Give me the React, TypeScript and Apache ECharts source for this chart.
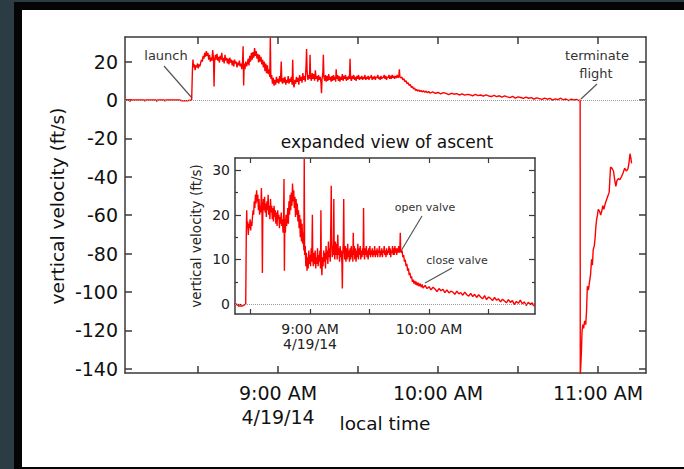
import React, { useEffect, useRef } from "react";
import * as echarts from "echarts";

// time in minutes after 8:00 AM local time (4/19/14), vertical velocity in ft/s
const preLaunch: number[][] = [
  [2.6, 0], [4.2, 0], [4.5, -0.7], [4.8, 0], [9.8, 0], [10.1, -0.6], [10.4, 0], [14.2, 0], [14.5, -0.7], [14.8, 0],
  [17.3, 0], [17.6, -0.6], [17.9, 0], [23, 0], [24, -0.4], [26, -0.4], [27.6, 0],
];

const ascent: number[][] = [
  [27.8, 0], [27.9, 16], [28.1, 21], [28.3, 17], [28.6, 18.5], [28.9, 15.5], [29.2, 18], [29.5, 17], [29.8, 19], [30.1, 16.5],
  [30.4, 18.5], [30.7, 17.5], [31.0, 19.5], [31.3, 21], [31.6, 20], [31.9, 23], [32.2, 21.5], [32.5, 24.5], [32.8, 22.5], [33.1, 25.5],
  [33.4, 23], [33.7, 24.5], [34.0, 21], [34.3, 23.5], [34.6, 20], [34.9, 22], [35.2, 20.5], [35.5, 26], [35.8, 21], [36.0, 7],
  [36.2, 20], [36.5, 23.5], [36.8, 21], [37.1, 24], [37.4, 20.5], [37.7, 22.5], [38.0, 19.5], [38.3, 23], [38.6, 21], [38.9, 24.5],
  [39.2, 20], [39.5, 22], [39.8, 19], [40.1, 23.5], [40.4, 20.5], [40.7, 22], [41.0, 19], [41.3, 21.5], [41.6, 18.5], [41.9, 22],
  [42.2, 19.5], [42.5, 21], [42.8, 18], [43.1, 20.5], [43.4, 17.5], [43.7, 21], [44.0, 19], [44.3, 20], [44.6, 17], [44.9, 19.5],
  [45.2, 18], [45.5, 20.5], [45.8, 17.5], [46.1, 19], [46.4, 16], [46.7, 20], [46.9, 28], [47.1, 7.5], [47.3, 19], [47.6, 16],
  [47.9, 20], [48.2, 17.5], [48.5, 19], [48.8, 21.5], [49.1, 18], [49.4, 23], [49.7, 20], [50.0, 24.5], [50.3, 21], [50.6, 25],
  [50.9, 22], [51.2, 27], [51.5, 23], [51.8, 25.5], [52.1, 21.5], [52.4, 24], [52.7, 19.5], [53.0, 23.5], [53.3, 20], [53.6, 22.5],
  [53.9, 18.5], [54.2, 21], [54.5, 17], [54.8, 20], [55.1, 15], [55.4, 19], [55.7, 14], [56.0, 18], [56.3, 13.5], [56.6, 16],
  [56.9, 12], [57.1, 32.5], [57.3, 11], [57.6, 13], [57.9, 8.5], [58.2, 11.5], [58.5, 7.5], [58.8, 10.5], [59.1, 8], [59.4, 12],
  [59.7, 9], [60.0, 11], [60.3, 8.5], [60.6, 12.5], [60.9, 9.5], [61.2, 20], [61.4, 10], [61.7, 8.5], [62.0, 11.5], [62.3, 9],
  [62.6, 12], [62.9, 8], [63.2, 10.5], [63.5, 9], [63.8, 12.5], [64.1, 8.5], [64.4, 11], [64.7, 9.5], [65.0, 12], [65.3, 8],
  [65.5, 21], [65.7, 9], [66.0, 6.5], [66.3, 10.5], [66.6, 8.5], [66.9, 12], [67.2, 9.5], [67.5, 11.5], [67.8, 8], [68.1, 13],
  [68.4, 10], [68.7, 12], [69.0, 9], [69.3, 14], [69.6, 10.5], [69.9, 12.5], [70.2, 9.5], [70.5, 18], [70.7, 26.5], [70.9, 15],
  [71.2, 10.5], [71.5, 13], [71.8, 11], [72.0, 23.5], [72.2, 12], [72.5, 10], [72.8, 14], [73.1, 11], [73.4, 13.5], [73.7, 10],
  [74.0, 15.5], [74.3, 11], [74.6, 12.5], [74.9, 9.5], [75.2, 13], [75.5, 10.5], [75.8, 12], [76.1, 9], [76.3, 3.5], [76.5, 11],
  [76.8, 14], [77.0, 23.5], [77.2, 12], [77.5, 10], [77.8, 13], [78.1, 9.5], [78.4, 12.5], [78.7, 10], [79.0, 13.5], [79.3, 10.5],
  [79.6, 12], [79.9, 9.5], [80.2, 12.5], [80.5, 10], [80.8, 13], [81.1, 10.5], [81.4, 12], [81.6, 9.5], [81.8, 16], [82.0, 11],
  [82.3, 13], [82.6, 10], [82.9, 12.5], [83.2, 9.5], [83.5, 12], [83.8, 10.5], [84.1, 13.5], [84.4, 10], [84.7, 12.5], [85.0, 11],
  [85.3, 13], [85.6, 10], [85.9, 12], [86.2, 10.5], [86.5, 12.5], [86.8, 11], [87.0, 21.5], [87.2, 11.5], [87.5, 10], [87.8, 12.5],
  [88.1, 11], [88.4, 13], [88.7, 10.5], [89.0, 12], [89.3, 10], [89.6, 12.5], [89.9, 11], [90.2, 13], [90.5, 10.5], [90.8, 12],
  [91.1, 11], [91.4, 12.5], [91.7, 10.5], [92.0, 12], [92.3, 11], [92.6, 13], [92.9, 10.5], [93.2, 12], [93.5, 11], [93.8, 12.5],
  [94.1, 10.5], [94.4, 12], [94.7, 11.5], [95.0, 13], [95.3, 10.5], [95.6, 12], [95.9, 11], [96.2, 12.5], [96.5, 10.5], [96.8, 12],
  [97.1, 11.5], [97.4, 13], [97.7, 11], [98.0, 12], [98.3, 10.5], [98.6, 12.5], [98.9, 11], [99.2, 12], [99.5, 11.5], [99.8, 13],
  [100.1, 11], [100.4, 12.5], [100.7, 10.5], [101.0, 12], [101.3, 11.5], [101.6, 13], [101.9, 11], [102.2, 12.5], [102.5, 11], [102.8, 13],
  [103.1, 11.5], [103.4, 12.5], [103.7, 11], [104.0, 12.5], [104.3, 11.5], [104.7, 13], [105.0, 11.5], [105.3, 12.5], [105.5, 16], [105.7, 12],
];

const valveAndFloat: number[][] = [
  [106.0, 11.5], [106.4, 12], [106.8, 10.5], [107.2, 11], [107.6, 9.5], [108.0, 10], [108.4, 8.5], [108.8, 9], [109.2, 7.5], [109.6, 8],
  [110.0, 6.5], [110.4, 7], [110.8, 5.8], [111.2, 6.2], [111.6, 5], [112.0, 5.5], [112.4, 4.6], [112.8, 5.2], [113.2, 4.4], [113.6, 5],
  [114.0, 4.2], [114.5, 4.8], [115.0, 4], [115.5, 4.6], [116.0, 3.8], [116.5, 4.4], [117.0, 3.6], [118, 4.2], [119, 3.5], [120, 3.9],
  [121, 3.2], [122, 3.8], [123, 3.4], [124, 2.8], [125, 3.5], [126, 3.0], [127, 3.3], [128, 2.6], [129, 3.2], [130, 2.5],
  [131, 2.9], [132, 2.7], [133, 2.2], [134, 2.9], [135, 2.3], [136, 2.6], [137, 2.0], [138, 2.7], [139, 2.1], [140, 1.8],
  [141, 2.4], [142, 1.7], [143, 2.2], [144, 1.5], [145, 2.1], [146, 1.6], [147, 1.2], [148, 1.9], [149, 1.0], [150, 1.6],
  [151, 1.3], [152, 0.8], [153, 1.5], [154, 0.9], [155, 1.2], [156, 0.5], [157, 1.1], [158, 0.7], [159, 0.3], [160, 1.0],
  [161, 0.4], [162, 0.8], [163, -0.1], [164, 0.6], [165, 0.2], [166, 0.9], [167, 0.1], [168, 0.5], [169, -0.3], [170, 0.4],
  [171, 0.0], [172, 0.3], [172.8, -0.4], [173.3, 0.1],
];

const descent: number[][] = [
  [173.35, -143], [173.6, -137], [173.8, -130], [174.0, -121], [174.3, -117], [174.6, -119], [175.0, -115], [175.4, -117], [175.7, -110], [176.0, -97],
  [176.4, -99], [176.8, -95], [177.2, -91], [177.6, -83], [177.9, -86], [178.2, -78], [178.6, -76], [178.9, -72], [179.2, -66], [179.5, -62],
  [179.8, -60], [180.1, -57], [180.6, -58], [181.0, -60], [181.4, -58], [181.8, -55], [182.2, -57], [182.7, -54], [183.2, -52], [183.7, -50],
  [184.2, -48], [184.5, -40], [184.7, -35], [185.2, -35.5], [185.8, -37], [186.3, -42], [186.7, -45], [187.1, -42], [187.6, -41], [188.2, -41.5],
  [188.8, -40], [189.4, -38], [190.0, -35.5], [190.6, -37], [191.2, -36], [191.6, -33], [192.0, -28], [192.3, -30], [192.6, -33],
];

// axis tick positions and labels
const mainXTicks = [30, 60, 90, 120, 150, 180];
const mainXLabelValues = [60, 120, 180];
const mainXLabels = ["9:00 AM\n4/19/14", "10:00 AM", "11:00 AM"];
const mainYTicks = [-140, -120, -100, -80, -60, -40, -20, 0, 20];
const insetXTicks = [30, 60, 90, 120, 150];
const insetXLabelValues = [60, 120];
const insetXLabels = ["9:00 AM\n4/19/14", "10:00 AM"];
const insetYTicks = [0, 10, 20, 30];
const insetYMinorTicks = [5, 15, 25];

const FONT = "DejaVu Sans";
const AXIS_COLOR = "#3a3a3a";
const RED = "#ff0000";

function labelFor(values: number[], labels: string[]) {
  return (v: number) => {
    const i = values.findIndex((x) => Math.abs(x - v) < 1e-6);
    return i >= 0 ? labels[i] : "";
  };
}

export default function App() {
  const ref = useRef<HTMLDivElement>(null);
  useEffect(() => {
    if (!ref.current) return;
    const chart = echarts.init(ref.current, null, { renderer: "svg" });
    const mainData = [...preLaunch, ...ascent, ...valveAndFloat, ...descent];
    const insetData = [...preLaunch, ...ascent, ...valveAndFloat];

    const axisLine = { show: true, onZero: false, lineStyle: { color: AXIS_COLOR, width: 1.5 } };
    const noLine = { show: false, onZero: false };
    const mainRangeX = { min: 2.6, max: 198 };
    const mainRangeY = { min: -142.2, max: 32.8 };
    const insetRangeX = { min: 22.2, max: 173.4 };
    const insetRangeY = { min: -2.2, max: 32.7 };

    const mkTick = (len: number, values: number[], w: number) => ({
      show: true, inside: true, length: len, customValues: values, lineStyle: { color: AXIS_COLOR, width: w },
    });

    const option: any = {
      animation: false,
      grid: [
        { left: 125, top: 37, width: 521, height: 336, containLabel: false },
        { left: 235, top: 158, width: 300, height: 156, containLabel: false },
      ],
      xAxis: [
        {
          type: "value", gridIndex: 0, position: "bottom", ...mainRangeX,
          axisLine, splitLine: { show: false }, axisTick: mkTick(7, mainXTicks, 1.5),
          axisLabel: {
            show: true, customValues: mainXLabelValues, formatter: labelFor(mainXLabelValues, mainXLabels),
            fontFamily: FONT, fontSize: 19, lineHeight: 24, color: "#111", margin: 8,
          },
        },
        {
          type: "value", gridIndex: 0, position: "top", ...mainRangeX,
          axisLine, splitLine: { show: false }, axisTick: mkTick(7, mainXTicks, 1.5),
          axisLabel: { show: false },
        },
        {
          type: "value", gridIndex: 1, position: "bottom", ...insetRangeX,
          axisLine, splitLine: { show: false }, axisTick: mkTick(5, insetXTicks, 1.2),
          axisLabel: {
            show: true, customValues: insetXLabelValues, formatter: labelFor(insetXLabelValues, insetXLabels),
            fontFamily: FONT, fontSize: 14, lineHeight: 15, color: "#222", margin: 7,
          },
        },
        {
          type: "value", gridIndex: 1, position: "top", ...insetRangeX,
          axisLine, splitLine: { show: false }, axisTick: mkTick(5, insetXTicks, 1.2),
          axisLabel: { show: false },
        },
      ],
      yAxis: [
        {
          type: "value", gridIndex: 0, position: "left", ...mainRangeY,
          axisLine, splitLine: { show: false }, axisTick: mkTick(7, mainYTicks, 1.5),
          axisLabel: { show: true, customValues: mainYTicks, fontFamily: FONT, fontSize: 19, color: "#111", margin: 7 },
        },
        {
          type: "value", gridIndex: 0, position: "right", ...mainRangeY,
          axisLine, splitLine: { show: false }, axisTick: mkTick(7, mainYTicks, 1.5),
          axisLabel: { show: false },
        },
        {
          type: "value", gridIndex: 1, position: "left", ...insetRangeY,
          axisLine, splitLine: { show: false }, axisTick: mkTick(6, insetYTicks, 1.2),
          axisLabel: { show: true, customValues: insetYTicks, fontFamily: FONT, fontSize: 14, color: "#222", margin: 5 },
        },
        {
          type: "value", gridIndex: 1, position: "right", ...insetRangeY,
          axisLine, splitLine: { show: false }, axisTick: mkTick(6, insetYTicks, 1.2),
          axisLabel: { show: false },
        },
        {
          type: "value", gridIndex: 1, position: "left", ...insetRangeY,
          axisLine: noLine, splitLine: { show: false }, axisTick: mkTick(3, insetYMinorTicks, 1.2),
          axisLabel: { show: false },
        },
        {
          type: "value", gridIndex: 1, position: "right", ...insetRangeY,
          axisLine: noLine, splitLine: { show: false }, axisTick: mkTick(3, insetYMinorTicks, 1.2),
          axisLabel: { show: false },
        },
      ],
      series: [
        {
          type: "line", xAxisIndex: 0, yAxisIndex: 0, data: [], z: 1, silent: true,
          markLine: {
            silent: true, symbol: "none", label: { show: false },
            lineStyle: { type: "dotted", color: "#9a9a9a", width: 1 },
            data: [{ yAxis: 0 }],
          },
        },
        {
          type: "line", xAxisIndex: 2, yAxisIndex: 2, data: [], z: 1, silent: true,
          markLine: {
            silent: true, symbol: "none", label: { show: false },
            lineStyle: { type: "dotted", color: "#9a9a9a", width: 1 },
            data: [{ yAxis: 0 }],
          },
        },
        {
          type: "line", xAxisIndex: 0, yAxisIndex: 0, data: mainData, z: 3,
          showSymbol: false, symbol: "none", clip: true,
          lineStyle: { color: RED, width: 1.4 },
        },
        {
          type: "line", xAxisIndex: 2, yAxisIndex: 2, data: insetData, z: 3,
          showSymbol: false, symbol: "none", clip: true,
          lineStyle: { color: RED, width: 1.4 },
        },
      ],
      graphic: [
        {
          type: "text", x: 57, y: 206, rotation: Math.PI / 2,
          style: { text: "vertical velocity (ft/s)", font: `18.5px "${FONT}"`, fill: "#111", align: "center", verticalAlign: "middle" },
        },
        {
          type: "text", x: 385, y: 423,
          style: { text: "local time", font: `18.5px "${FONT}"`, fill: "#111", align: "center", verticalAlign: "middle" },
        },
        {
          type: "text", x: 387, y: 142,
          style: { text: "expanded view of ascent", font: `17px "${FONT}"`, fill: "#111", align: "center", verticalAlign: "middle" },
        },
        {
          type: "text", x: 196, y: 236, rotation: Math.PI / 2,
          style: { text: "vertical velocity (ft/s)", font: `13.5px "${FONT}"`, fill: "#222", align: "center", verticalAlign: "middle" },
        },
        {
          type: "text", x: 166, y: 55,
          style: { text: "launch", font: `13px "${FONT}"`, fill: "#333", align: "center", verticalAlign: "middle" },
        },
        {
          type: "text", x: 597, y: 55,
          style: { text: "terminate", font: `13px "${FONT}"`, fill: "#333", align: "center", verticalAlign: "middle" },
        },
        {
          type: "text", x: 596, y: 73,
          style: { text: "flight", font: `13px "${FONT}"`, fill: "#333", align: "center", verticalAlign: "middle" },
        },
        {
          type: "text", x: 425, y: 207,
          style: { text: "open valve", font: `11px "${FONT}"`, fill: "#333", align: "center", verticalAlign: "middle" },
        },
        {
          type: "text", x: 457, y: 260,
          style: { text: "close valve", font: `11px "${FONT}"`, fill: "#333", align: "center", verticalAlign: "middle" },
        },
        { type: "line", shape: { x1: 164, y1: 66, x2: 192, y2: 98 }, style: { stroke: "#555", lineWidth: 1.2 } },
        { type: "line", shape: { x1: 597, y1: 84, x2: 581, y2: 99 }, style: { stroke: "#555", lineWidth: 1.2 } },
        { type: "line", shape: { x1: 422, y1: 216, x2: 401, y2: 251 }, style: { stroke: "#555", lineWidth: 1.2 } },
        { type: "line", shape: { x1: 452, y1: 268, x2: 425, y2: 283 }, style: { stroke: "#555", lineWidth: 1.2 } },
      ],
    };
    chart.setOption(option);
    return () => chart.dispose();
  }, []);

  return (
    <div style={{ position: "fixed", left: 0, top: 0, width: 684, height: 469, background: "#2b3c45", overflow: "hidden" }}>
      <div style={{ position: "absolute", left: 14, top: 2, width: 670, height: 467, background: "#050505" }} />
      <div style={{ position: "absolute", left: 22, top: 10, width: 662, height: 457, background: "#ffffff" }} />
      <div ref={ref} style={{ position: "absolute", left: 0, top: 0, width: 684, height: 469 }} />
    </div>
  );
}
